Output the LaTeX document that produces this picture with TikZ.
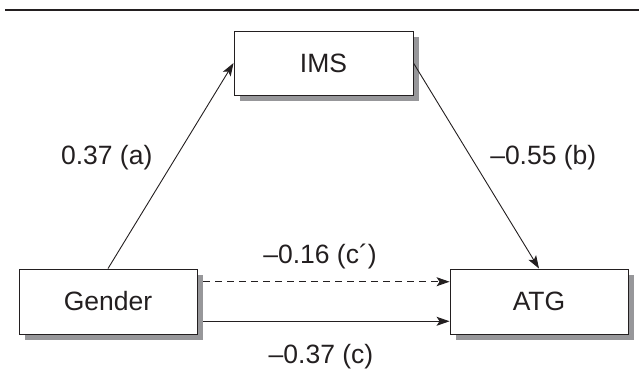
\documentclass[tikz,border=0pt]{standalone}
\usepackage{fontspec}
\setmainfont{Liberation Sans}
\usetikzlibrary{arrows.meta,shadows,calc}
\definecolor{ink}{HTML}{231F20}
\definecolor{shade}{HTML}{97979A}
\tikzset{
  varbox/.style={draw=ink, line width=0.9pt, fill=white, inner sep=0pt,
    minimum width=178pt, minimum height=65pt, text=ink,
    font=\fontsize{26.5}{30}\selectfont,
    drop shadow={shadow xshift=6pt, shadow yshift=-6pt, fill=shade, opacity=1}},
  coef/.style={anchor=base, inner sep=0pt, text=ink, font=\fontsize{26.5}{30}\selectfont},
  path/.style={draw=ink, line width=0.9pt,
    -{Stealth[length=13pt, width=9pt, inset=3pt]}},
  rule/.style={draw=ink, line width=2.4pt}
}
\begin{document}
\begin{tikzpicture}[x=1pt, y=-1pt]
  \useasboundingbox (0,0) rectangle (639,383);

  % heading rule
  \coordinate (ruleL) at (5,10);
  \coordinate (ruleR) at (639,10);
  \draw[rule] (ruleL) -- (ruleR);

  % variables
  \node[varbox, minimum width=179pt, minimum height=64pt] (ims) at (323.5,63) {IMS};
  \node[varbox] (gender) at (108,301.5) {Gender};
  \node[varbox] (atg) at (539,301.5) {ATG};

  % paths
  \draw[path] (gender.north) -- (ims.west);
  \draw[path] (ims.east) -- (atg.north);
  \draw[path, dashed, dash pattern=on 7pt off 5pt]
    ([xshift=6pt]$(gender.north east)!0.2!(gender.south east)$) --
    ($(atg.north west)!0.2!(atg.south west)$);
  \draw[path]
    ([xshift=6pt]$(gender.north east)!0.8!(gender.south east)$) --
    ($(atg.north west)!0.8!(atg.south west)$);

  % coefficients
  \node[coef] (la) at (106.7,164.3) {0.37 (a)};
  \node[coef] (lb) at (543.3,164.3) {–0.55 (b)};
  \node[coef] (lcp) at (320,263.3) {–0.16 (c´)};
  \node[coef] (lc) at (321,363.3) {–0.37 (c)};
\end{tikzpicture}
\end{document}
